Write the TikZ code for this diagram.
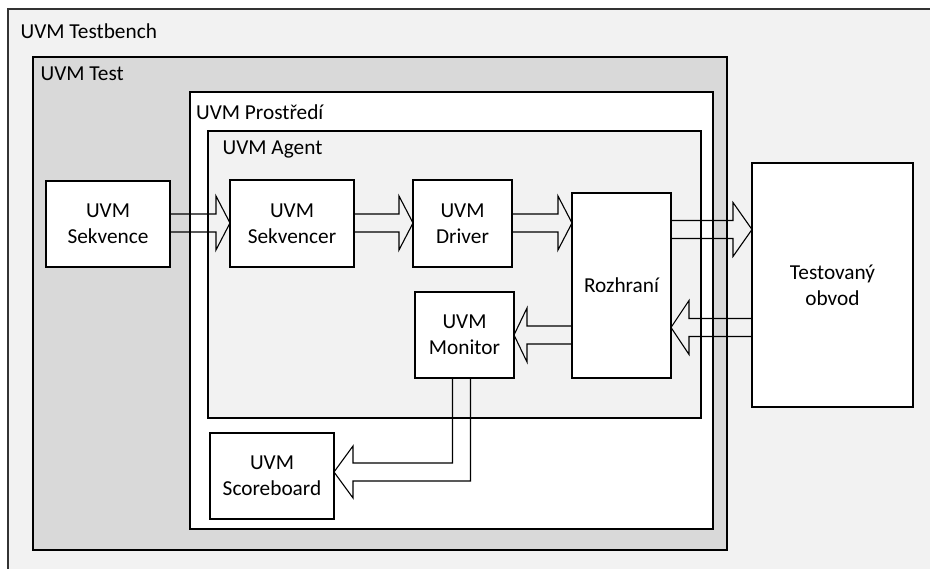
\documentclass[tikz,border=0pt]{standalone}
\usepackage{fontspec}
\setmainfont{Carlito}
\usetikzlibrary{calc}

\definecolor{panelgray}{HTML}{F2F2F2}
\definecolor{testgray}{HTML}{D9D9D9}

% Outlined block arrow from #2 to #3 (tip at #3); optional #1 is the head length
\newcommand\blockarrow[3][14pt]{%
  \path ($(#3)!#1!(#2)$) coordinate (hb);
  \draw[blk] ($(#2)!9pt!90:(#3)$) -- ($(hb)!9pt!90:(#3)$) -- ($(hb)!27pt!90:(#3)$)
    -- (#3) -- ($(hb)!27pt!-90:(#3)$) -- ($(hb)!9pt!-90:(#3)$) -- ($(#2)!9pt!-90:(#3)$);
}

\begin{document}
\begin{tikzpicture}[x=1pt,y=-1pt,
  frame/.style={draw=black, line width=1.2pt, inner sep=0pt, outer sep=0pt, anchor=north west},
  box/.style={draw=black, fill=white, line width=1.2pt, inner sep=0pt, outer sep=0pt,
    align=center, font=\fontsize{21.3pt}{26pt}\selectfont},
  lbl/.style={anchor=base west, inner sep=0pt, font=\fontsize{21.3pt}{26pt}\selectfont},
  blk/.style={draw=black, line width=1.1pt, line join=miter}]
\useasboundingbox (0,0) rectangle (930,569);
\clip (0,0) rectangle (930,569);

% nested containers
\node[frame, draw=black!80, fill=panelgray, minimum width=930pt, minimum height=570pt] (tb) at (8,9) {};
\node[lbl] (tblbl) at (20.5,39) {UVM Testbench};
\node[frame, fill=testgray, minimum width=694pt, minimum height=493pt] (test) at (33,57) {};
\node[lbl] (testlbl) at (40.5,81) {UVM Test};
\node[frame, fill=white, minimum width=523pt, minimum height=437pt] (env) at (190,92) {};
\node[lbl] (envlbl) at (196,119.5) {UVM Prostředí};
\node[frame, fill=panelgray, minimum width=493pt, minimum height=287pt] (agent) at (208,131) {};
\node[lbl] (agentlbl) at (222.5,155) {UVM Agent};

% components
\node[box, minimum width=124pt, minimum height=86pt] (seq) at (108,224) {UVM\\Sekvence};
\node[box, minimum width=124pt, minimum height=87pt] (sqr) at (292,223.5) {UVM\\Sekvencer};
\node[box, minimum width=99pt, minimum height=87pt] (drv) at (462.5,223.5) {UVM\\Driver};
\node[box, minimum width=99pt, minimum height=185pt] (ifc) at (621.5,285.5) {Rozhraní};
\node[box, minimum width=99pt, minimum height=86pt] (mon) at (464.5,335) {UVM\\Monitor};
\node[box, minimum width=124pt, minimum height=86pt] (scb) at (272,476) {UVM\\Scoreboard};
\node[box, minimum width=161pt, minimum height=244pt] (dut) at (832.5,285) {Testovaný\\obvod};

% straight block arrows
\coordinate (a1s) at ($(seq.east)+(0,-1)$);
\coordinate (a1e) at (a1s -| sqr.west);
\blockarrow{a1s}{a1e}
\coordinate (a2s) at ($(sqr.east)+(0,-0.5)$);
\coordinate (a2e) at (a2s -| drv.west);
\blockarrow{a2s}{a2e}
\coordinate (a3s) at ($(drv.east)+(0,-0.5)$);
\coordinate (a3e) at (a3s -| ifc.west);
\blockarrow{a3s}{a3e}
\coordinate (a4s) at ($(ifc.east)+(0,-56)$);
\coordinate (a4e) at (a4s -| dut.west);
\blockarrow[19pt]{a4s}{a4e}
\coordinate (a5e) at ($(ifc.east)+(0,42)$);
\coordinate (a5s) at (a5e -| dut.west);
\blockarrow[18pt]{a5s}{a5e}
\coordinate (a6e) at (mon.east);
\coordinate (a6s) at (a6e -| ifc.west);
\blockarrow[13pt]{a6s}{a6e}

% elbow block arrow from the monitor down to the scoreboard
\coordinate (elb) at ($(mon.south)+(-3,0)$);
\coordinate (tip) at ($(scb.east)+(0,-4)$);
\coordinate (hb2) at ($(tip)+(19,0)$);
\coordinate (crn) at (elb |- tip);
\draw[blk] ($(elb)+(-9,0)$) -- ($(crn)+(-9,-9)$) -- ($(hb2)+(0,-9)$) -- ($(hb2)+(0,-26)$)
  -- (tip) -- ($(hb2)+(0,26)$) -- ($(hb2)+(0,9)$) -- ($(crn)+(9,9)$) -- ($(elb)+(9,0)$);
\end{tikzpicture}
\end{document}
